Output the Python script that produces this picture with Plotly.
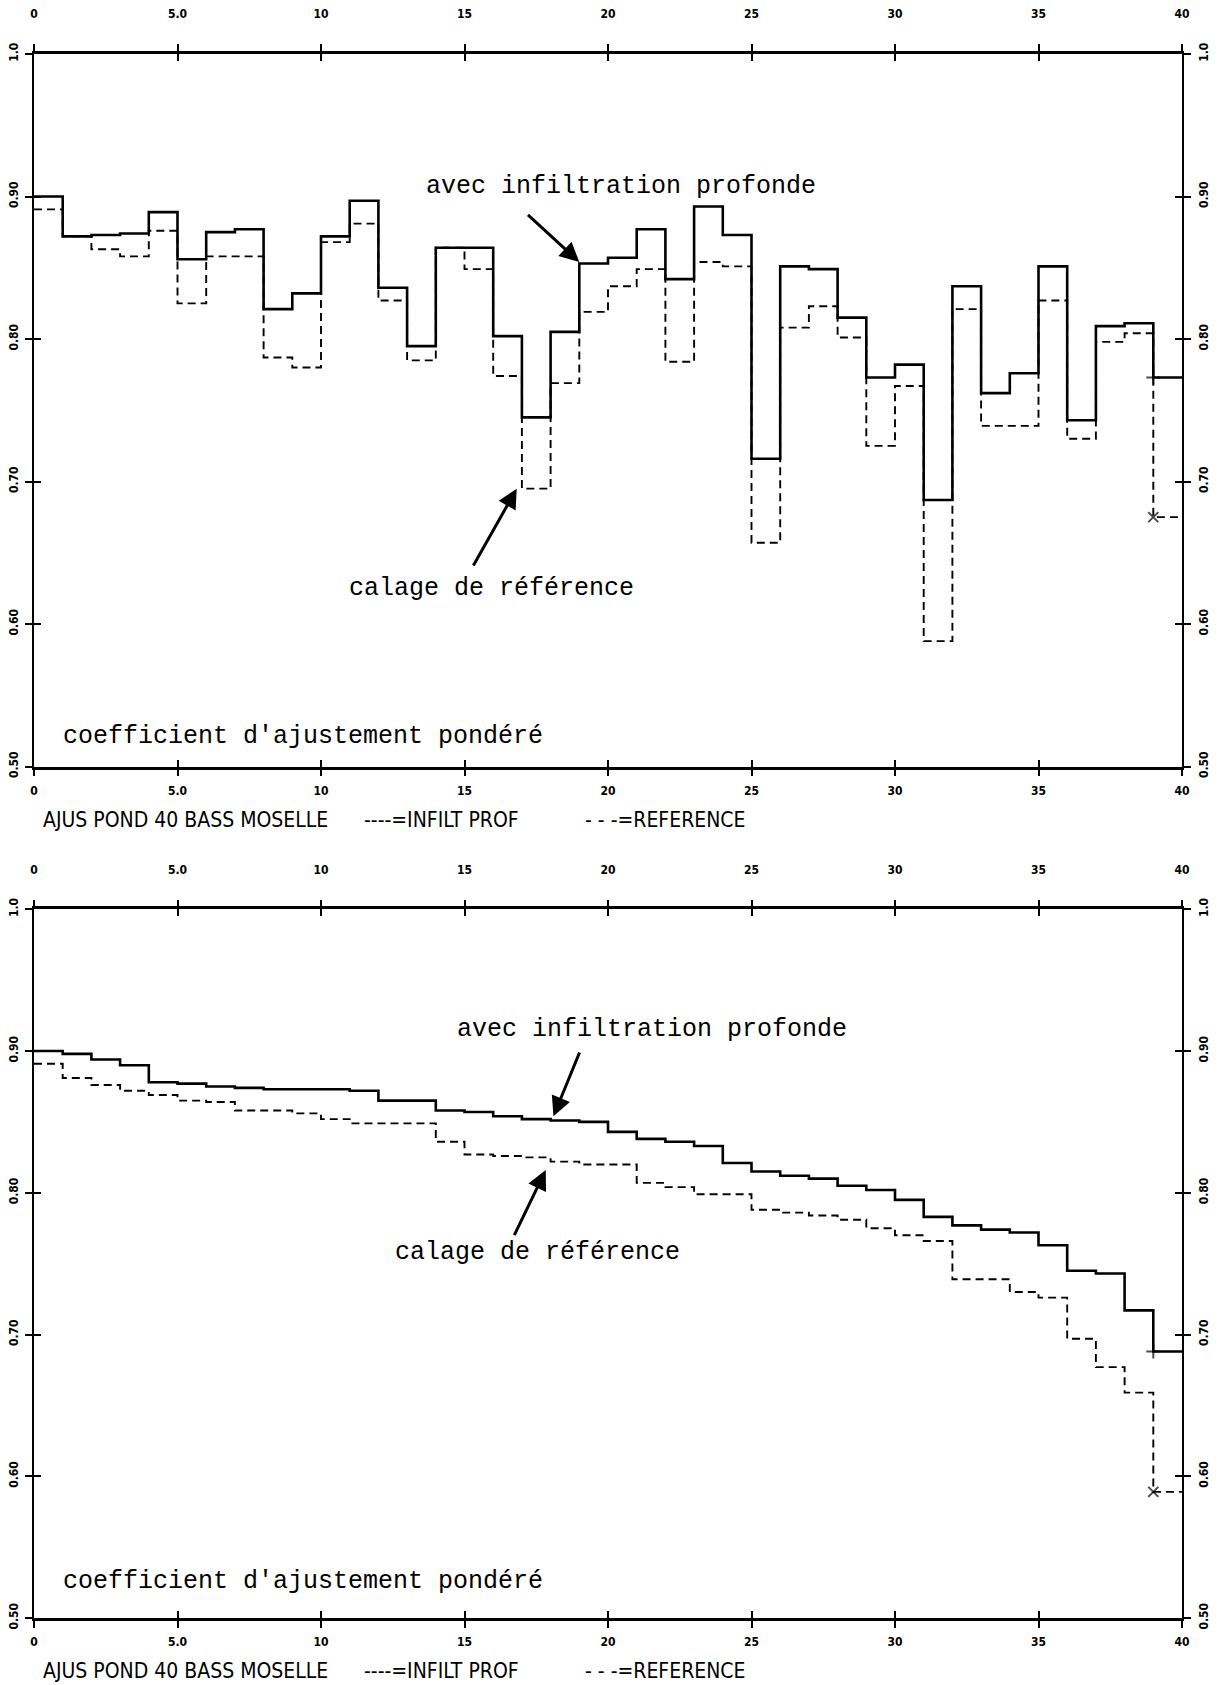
import plotly.graph_objects as go

# Data: weighted adjustment coefficient per basin (1..40), Moselle
basins = list(range(41))  # step edges 0..40

infilt_prof = [
    0.900, 0.872, 0.873, 0.874, 0.889, 0.856, 0.875, 0.877, 0.821, 0.832,
    0.872, 0.897, 0.836, 0.795, 0.864, 0.864, 0.802, 0.745, 0.805, 0.853,
    0.857, 0.877, 0.842, 0.893, 0.873, 0.716, 0.851, 0.849, 0.815, 0.773,
    0.782, 0.687, 0.837, 0.762, 0.776, 0.851, 0.743, 0.809, 0.811, 0.773,
]
reference = [
    0.891, 0.872, 0.863, 0.858, 0.876, 0.825, 0.858, 0.858, 0.787, 0.780,
    0.868, 0.881, 0.827, 0.785, 0.864, 0.849, 0.774, 0.695, 0.769, 0.819,
    0.837, 0.849, 0.784, 0.854, 0.851, 0.657, 0.808, 0.823, 0.801, 0.725,
    0.767, 0.588, 0.821, 0.739, 0.739, 0.827, 0.730, 0.798, 0.804, 0.675,
]

# Same values sorted (lower panel)
infilt_sorted = [
    0.900, 0.898, 0.894, 0.890, 0.878, 0.877, 0.875, 0.874, 0.873, 0.873,
    0.873, 0.872, 0.865, 0.865, 0.858, 0.857, 0.854, 0.852, 0.851, 0.850,
    0.843, 0.838, 0.836, 0.833, 0.821, 0.815, 0.812, 0.810, 0.805, 0.802,
    0.795, 0.783, 0.777, 0.774, 0.772, 0.763, 0.745, 0.743, 0.717, 0.688,
]
reference_sorted = [
    0.891, 0.881, 0.876, 0.872, 0.869, 0.865, 0.864, 0.858, 0.858, 0.856,
    0.852, 0.849, 0.849, 0.849, 0.836, 0.827, 0.826, 0.825, 0.822, 0.820,
    0.820, 0.807, 0.804, 0.799, 0.799, 0.788, 0.786, 0.784, 0.781, 0.775,
    0.770, 0.766, 0.739, 0.739, 0.730, 0.726, 0.697, 0.677, 0.659, 0.589,
]

x_tickvals = [0, 5, 10, 15, 20, 25, 30, 35, 40]
x_ticktext = ["0", "5.0", "10", "15", "20", "25", "30", "35", "40"]
y_tickvals = [0.5, 0.6, 0.7, 0.8, 0.9, 1.0]
y_ticktext = ["0.50", "0.60", "0.70", "0.80", "0.90", "1.0"]

# page body has an 8px margin, so the figure is a bit smaller than the window
W, H = 1210, 1677
OFF = 8
TYPE = "Liberation Mono, Courier New, monospace"
PLOT = "DejaVu Sans Condensed, DejaVu Sans, sans-serif"

fig = go.Figure()


def step(vals):
    return vals + [vals[-1]]


def end_marker(vals, symbol):
    n = len(vals)
    return dict(symbol=symbol, size=[0] * (n - 1) + [10, 0], color="black",
                line=dict(color="black", width=2))


# solid on main axes, dashed on the overlay axes (which carry top/right labels)
panels = [("x", "y", "x3", "y3", infilt_prof, reference),
          ("x2", "y2", "x4", "y4", infilt_sorted, reference_sorted)]
for xa, ya, xo, yo, solid, dashed in panels:
    fig.add_trace(go.Scatter(
        x=basins, y=step(dashed), xaxis=xo, yaxis=yo, mode="lines+markers",
        line=dict(color="black", width=1.9, dash="8px,5px", shape="hv"),
        marker=end_marker(dashed, "x-thin"), showlegend=False,
    ))
    fig.add_trace(go.Scatter(
        x=basins, y=step(solid), xaxis=xa, yaxis=ya, mode="lines+markers",
        line=dict(color="black", width=2.6, shape="hv"),
        marker=end_marker(solid, "cross-thin"), showlegend=False,
    ))

top_dom = [1 - (766.5 - OFF) / H, 1 - (54.0 - OFF) / H]
bot_dom = [1 - (1618.0 - OFF) / H, 1 - (909.3 - OFF) / H]

tickfont = dict(family=PLOT, size=12, color="black", weight="bold")
xbase = dict(range=[0, 40], tickvals=x_tickvals, ticktext=x_ticktext, showgrid=False,
             zeroline=False, showline=True, linecolor="black", linewidth=2.6,
             tickcolor="black", tickwidth=1.5, ticklen=7, mirror="ticks",
             tickfont=tickfont, domain=[0, 1], automargin=False, fixedrange=True)
ybase = dict(range=[0.5, 1.0], tickvals=y_tickvals, ticktext=y_ticktext, showgrid=False,
             zeroline=False, showline=True, linecolor="black", linewidth=1.6,
             tickcolor="black", tickwidth=1.5, ticklen=7, mirror="ticks",
             tickfont=tickfont, tickangle=-90, automargin=False, fixedrange=True)

layout = {}
for dom, xa, ya, xo, yo in [(top_dom, "x", "y", "x3", "y3"),
                            (bot_dom, "x2", "y2", "x4", "y4")]:
    xname = "xaxis" if xa == "x" else "xaxis" + xa[1:]
    yname = "yaxis" if ya == "y" else "yaxis" + ya[1:]
    layout[xname] = dict(xbase, anchor=ya, side="bottom", ticks="outside", ticklabelstandoff=4)
    layout[yname] = dict(ybase, anchor=xa, side="left", ticks="outside", domain=dom,
                         ticklabelstandoff=2)
    layout["xaxis" + xo[1:]] = dict(xbase, anchor=yo, side="top", ticks="inside",
                                    overlaying=xa, ticklabelstandoff=28)
    layout["yaxis" + yo[1:]] = dict(ybase, anchor=xo, side="right", ticks="inside",
                                    overlaying=ya, domain=dom, ticklabelstandoff=10)

fig.update_layout(**layout)

ann = []
txt = dict(family=TYPE, size=25, color="black")
for xa, ya, labels, arrows in [
    ("x", "y",
     [("avec infiltration profonde", 20.47, 0.907, "center"),
      ("calage de référence", 15.94, 0.625, "center"),
      ("coefficient d'ajustement pondéré", 0.93, 0.521, "left")],
     [(19.0, 0.854, 17.16, 0.888), (16.82, 0.695, 15.28, 0.640)]),
    ("x2", "y2",
     [("avec infiltration profonde", 21.52, 0.915, "center"),
      ("calage de référence", 17.55, 0.758, "center"),
      ("coefficient d'ajustement pondéré", 0.93, 0.526, "left")],
     [(18.1, 0.854, 19.03, 0.900), (17.83, 0.816, 16.71, 0.769)]),
]:
    for t, tx, ty, anchor in labels:
        ann.append(dict(text=t, x=tx, y=ty, xref=xa, yref=ya, xanchor=anchor,
                        yanchor="middle", showarrow=False, font=txt))
    for hx, hy, tx, ty in arrows:
        ann.append(dict(text="", x=hx, y=hy, ax=tx, ay=ty, xref=xa, yref=ya,
                        axref=xa, ayref=ya, showarrow=True, arrowhead=2,
                        arrowsize=1.3, arrowwidth=3, arrowcolor="black"))

cap = dict(family=PLOT, size=21, color="black")
for ypx in [820, 1671]:
    for t, xpx in [("AJUS POND 40 BASS MOSELLE", 41), ("----=INFILT PROF", 362),
                   ("- - -=REFERENCE", 583)]:
        ann.append(dict(text=t, x=(xpx - 34) / 1148, y=1 - (ypx - OFF) / H,
                        xref="paper", yref="paper", xanchor="left", yanchor="middle",
                        showarrow=False, font=cap))

fig.update_layout(
    annotations=ann,
    width=W,
    height=H,
    margin=dict(l=26, r=36, t=0, b=0, autoexpand=False),
    plot_bgcolor="white",
    paper_bgcolor="white",
    showlegend=False,
)

fig.write_html("out.html")
